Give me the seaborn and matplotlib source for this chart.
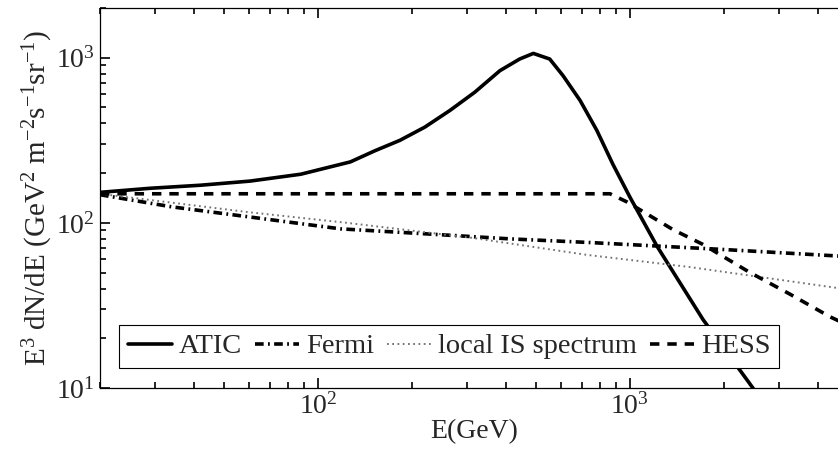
import matplotlib
matplotlib.use('Agg')
import matplotlib.pyplot as plt
from matplotlib.ticker import LogLocator, NullFormatter
import numpy as np
import seaborn as sns

# values (E in GeV, E^3 dN/dE)
atic_E = [20, 29, 42, 60.5, 88, 127, 152, 183, 220, 265, 318, 383, 443, 490, 553, 610, 692, 783, 883, 1000, 1222, 1714, 2478, 3000]
atic_F = [153, 162, 169, 179, 197, 234, 273, 316, 380, 480, 618, 835, 982, 1062, 982, 779, 551, 363, 225, 143, 72, 26, 10, 5.8]

fermi_E = [20, 34, 64, 118, 217, 412, 745, 1986, 5000]
fermi_F = [148, 125, 107, 92, 86, 80, 76, 69, 62.5]

lis_E = [20, 60, 124, 314, 727, 1556, 5000]
lis_F = [150, 116, 100, 81, 64, 54, 39.5]

hess_E = [20, 100, 500, 863, 977, 1374, 1714, 2426, 3258, 4375, 5000]
hess_F = [150, 150, 150, 150, 134, 91, 74, 50, 37, 27, 24]

labels = ['ATIC', 'Fermi', 'local IS spectrum', 'HESS']

sns.set_style('ticks')
plt.rcParams['font.family'] = ['Liberation Serif', 'DejaVu Serif']
plt.rcParams['mathtext.fontset'] = 'custom'
plt.rcParams['mathtext.rm'] = 'Liberation Serif'
plt.rcParams['mathtext.it'] = 'Liberation Serif:italic'
plt.rcParams['mathtext.default'] = 'regular'

fig = plt.figure(figsize=(8.38, 4.59), dpi=100)
ax = fig.add_axes([100/838, 1-388/459, 748/838, 380/459])

sns.lineplot(x=atic_E, y=atic_F, ax=ax, color='black', lw=2.6, label=labels[0])
sns.lineplot(x=fermi_E, y=fermi_F, ax=ax, color='black', lw=2.6,
             linestyle=(0, (2.4, 1.2, 0.5, 1.2)), label=labels[1])
sns.lineplot(x=lis_E, y=lis_F, ax=ax, color='0.45', lw=1.4,
             linestyle=(0, (0.9, 1.8)), label=labels[2])
sns.lineplot(x=hess_E, y=hess_F, ax=ax, color='black', lw=2.6,
             linestyle=(0, (2.6, 2.2)), label=labels[3])

ax.set_xscale('log')
ax.set_yscale('log')
ax.set_xlim(20, 5000)
ax.set_ylim(10, 2000)
for a in (ax.xaxis, ax.yaxis):
    a.set_minor_locator(LogLocator(base=10, subs=np.arange(2, 10), numticks=100))
    a.set_minor_formatter(NullFormatter())

ax.tick_params(which='both', direction='in', top=True, right=True,
               labelsize=20, width=1.2, color='black')
ax.tick_params(which='major', length=7)
ax.tick_params(which='minor', length=4)
for s in ax.spines.values():
    s.set_linewidth(0.9)
    s.set_color('black')

ax.set_xlabel('E(GeV)', fontsize=20, labelpad=0)
ax.set_ylabel(r'E$^3$ dN/dE (GeV$^2$ m$^{-2}$s$^{-1}$sr$^{-1}$)', fontsize=21, labelpad=1)

leg = ax.legend(loc='lower left', bbox_to_anchor=(0.0254, 0.0526), borderaxespad=0,
                ncol=4, fontsize=20.5, frameon=True, fancybox=False, framealpha=1,
                edgecolor='black', handlelength=1.55, handletextpad=0.25,
                columnspacing=0.45, borderpad=0.3)
leg.get_frame().set_linewidth(0.8)

fig.savefig('out.png', dpi=100)
